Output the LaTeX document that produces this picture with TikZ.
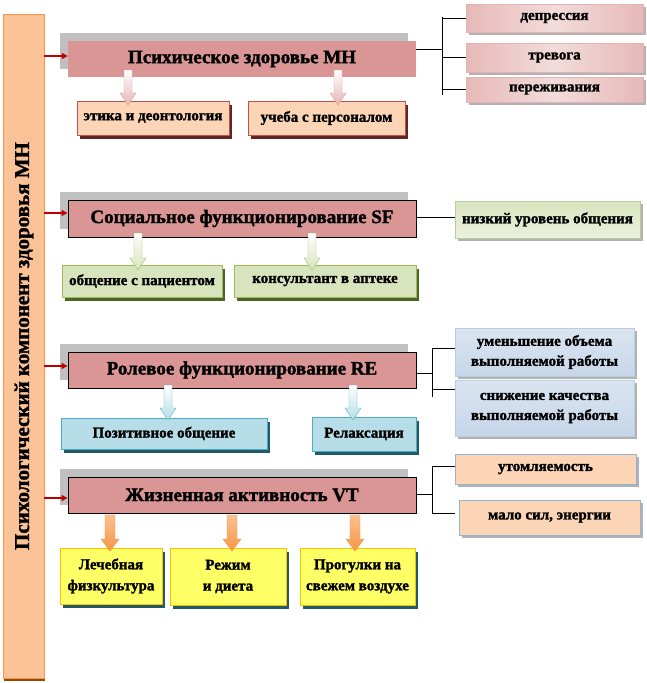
\documentclass[tikz,border=0pt]{standalone}
\usepackage{fontspec}
\setmainfont{Liberation Serif}[BoldFont={Liberation Serif Bold}, BoldFeatures={FakeBold=1.6}]
\usetikzlibrary{calc,shadows,arrows.meta}
\definecolor{mainpink}{HTML}{D99694}
\definecolor{shgray}{HTML}{C0C0C0}
\definecolor{peach}{HTML}{FBD5B5}
\definecolor{redbr}{HTML}{C0504D}
\definecolor{darkred}{HTML}{632523}
\definecolor{pinkA}{HTML}{E6B9B8}
\definecolor{pinkB}{HTML}{F2DCDB}
\definecolor{greenA}{HTML}{D7E4BD}
\definecolor{greenB}{HTML}{EBF1DE}
\definecolor{greenBd}{HTML}{9BBB59}
\definecolor{olive}{HTML}{4F6228}
\definecolor{blueA}{HTML}{B8CCE4}
\definecolor{blueB}{HTML}{DBE5F1}
\definecolor{blueBd}{HTML}{95B3D7}
\definecolor{aqua}{HTML}{B7DEE8}
\definecolor{aquaBd}{HTML}{4BACC6}
\definecolor{teal}{HTML}{215967}
\definecolor{yel}{HTML}{FFFF66}
\definecolor{gold}{HTML}{FFC000}
\definecolor{orA}{HTML}{FAC090}
\definecolor{orB}{HTML}{F79646}
\definecolor{orMid}{HTML}{F59D56}
\definecolor{orLight}{HTML}{FAC397}
\definecolor{orDark}{HTML}{984807}
\definecolor{arrred}{HTML}{C00000}
\newcommand\blkarr[5]{% x, top, tip, half shaft, style
  \path[#5] (#1-#4,#2) -- (#1+#4,#2) -- (#1+#4,#3-12) -- (#1+#4+4,#3-12) -- (#1,#3)
    -- (#1-#4-4,#3-12) -- (#1-#4,#3-12) -- cycle;}
\begin{document}
\begin{tikzpicture}[x=1pt,y=-1pt,
  mainbox/.style={rectangle, fill=mainpink, inner sep=0pt, minimum width=348pt,
    font=\fontsize{19}{22}\selectfont\bfseries,
    general shadow={fill=shgray, shadow xshift=-8pt, shadow yshift=8pt}},
  subtext/.style={rectangle, inner sep=0pt, align=center, font=\fontsize{15}{20}\selectfont\bfseries},
  sub1/.style={subtext, fill=peach, draw=redbr, line width=0.8pt,
    general shadow={fill=darkred, shadow xshift=3pt, shadow yshift=-4pt}},
  sub2/.style={subtext, fill=greenA, draw=greenBd, line width=0.8pt,
    general shadow={fill=olive, shadow xshift=3pt, shadow yshift=-4pt}},
  sub3/.style={subtext, fill=aqua, draw=aquaBd, line width=0.8pt,
    general shadow={fill=teal, shadow xshift=3pt, shadow yshift=-4pt}},
  sub4/.style={subtext, fill=yel, draw=gold, line width=0.8pt,
    font=\fontsize{15}{21}\selectfont\bfseries,
    general shadow={fill=teal, shadow xshift=3pt, shadow yshift=-4pt}},
  rgt/.style={subtext, general shadow={fill=black!30, shadow xshift=3pt, shadow yshift=-3pt}},
  rgt1/.style={rgt, left color=pinkA, right color=pinkA, middle color=pinkB, draw=pinkA!80!mainpink, line width=0.5pt},
  rgt2/.style={rgt, top color=greenA, bottom color=greenB, draw=greenA!80!olive, line width=0.5pt},
  rgt3/.style={rgt, top color=blueB, bottom color=blueA!80!white, draw=blueA, line width=0.5pt},
  rgt4/.style={rgt, fill=peach, draw=blueBd, line width=0.8pt},
  conn/.style={draw=black, line width=0.9pt},
  redarr/.style={draw=arrred, line width=1.3pt, -{Triangle[length=6pt,width=6pt]}},
  arr1/.style={top color=white, bottom color=pinkA!90!mainpink, draw=mainpink, line width=0.4pt},
  arr2/.style={top color=white, bottom color=greenA, draw=greenBd, line width=0.4pt},
  arr3/.style={top color=white, bottom color=aqua, draw=aquaBd, line width=0.4pt},
  arr4/.style={top color=orA, bottom color=orB, draw=orB, line width=0.4pt}
]
\useasboundingbox (0,0) rectangle (647,683);
\fill[white] (0,0) rectangle (647,683);

% vertical bar
\fill[orDark] (4,16) rectangle (45,681);
\shade[top color=orLight, middle color=orMid, bottom color=orLight, draw=orB, line width=0.6pt]
  (3,14) rectangle (44,678);
\node[rotate=90, inner sep=0pt, font=\fontsize{21}{24}\selectfont\bfseries] (bar) at (24,346)
  {Психологический компонент здоровья МН};

% main boxes
\node[mainbox, minimum height=36pt] (m1) at (242,59) {Психическое здоровье МН};
\node[mainbox, draw=black, line width=0.9pt, minimum height=37pt] (m2) at (242,218.5) {Социальное функционирование SF};
\node[mainbox, draw=black, line width=0.9pt, minimum height=36pt] (m3) at (242,370) {Ролевое функционирование RE};
\node[mainbox, draw=black, line width=0.9pt, minimum height=36pt] (m4) at (242,495) {Жизненная активность VT};

% red arrows
\coordinate (ra1) at (44,56);
\coordinate (ra2) at (44,213);
\coordinate (ra3) at (44,366);
\coordinate (ra4) at (44,498);
\draw[redarr] (ra1) -- (ra1 -| m1.west);
\draw[redarr] (ra2) -- (ra2 -| m2.west);
\draw[redarr] (ra3) -- (ra3 -| m3.west);
\draw[redarr] (ra4) -- (ra4 -| m4.west);

% row 1 sub boxes
\node[sub1, minimum width=152pt, minimum height=34pt] (s11) at (153,118) {этика и деонтология};
\node[sub1, minimum width=157pt, minimum height=34pt] (s12) at (326.5,118) {учеба с персоналом};
\blkarr{128}{70}{105}{4}{arr1}
\blkarr{338}{70}{105}{4}{arr1}

% row 1 right
\node[rgt1, minimum width=177pt, minimum height=28pt] (r11) at (554.5,18) {депрессия};
\node[rgt1, minimum width=177pt, minimum height=29pt] (r12) at (554.5,57.5) {тревога};
\node[rgt1, minimum width=177pt, minimum height=25pt] (r13) at (554.5,89.5) {переживания};
\coordinate (j1) at (442,49);
\draw[conn] (j1 -| m1.east) -- (j1);
\draw[conn] (442,17) -- (442,95);
\draw[conn] (j1 |- r11.west) -- (r11.west);
\draw[conn] (j1 |- r12.west) -- (r12.west);
\draw[conn] (j1 |- r13.west) -- (r13.west);

% row 2
\node[sub2, minimum width=160pt, minimum height=32pt] (s21) at (142,281) {общение с пациентом};
\node[sub2, minimum width=182pt, minimum height=32pt] (s22) at (325,281) {консультант в аптеке};
\blkarr{138}{233}{270}{4}{arr2}
\blkarr{312}{233}{270}{4}{arr2}
\node[rgt2, minimum width=185pt, minimum height=37pt] (r21) at (547.5,219.5) {низкий уровень общения};
\coordinate (j2) at (430,217);
\draw[conn] (j2 -| m2.east) -- (j2 -| r21.west);

% row 3
\node[sub3, minimum width=206pt, minimum height=31pt] (s31) at (164,433.5) {Позитивное общение};
\node[sub3, minimum width=104pt, minimum height=34pt] (s32) at (364,434) {Релаксация};
\blkarr{168}{385}{420}{4}{arr3}
\blkarr{353}{385}{420}{4}{arr3}
\node[rgt3, minimum width=179pt, minimum height=48pt] (r31) at (544.5,352) {уменьшение объема\\выполняемой работы};
\node[rgt3, minimum width=179pt, minimum height=56pt] (r32) at (544.5,408) {снижение качества\\выполняемой работы};
\coordinate (j3) at (432,373);
\coordinate (b31) at (432,348);
\coordinate (b32) at (432,389);
\draw[conn] (j3 -| m3.east) -- (j3);
\draw[conn] (432,348) -- (432,397);
\draw[conn] (b31) -- (b31 -| r31.west);
\draw[conn] (b32) -- (b32 -| r32.west);

% row 4
\node[sub4, minimum width=102pt, minimum height=56pt] (s41) at (111,576) {Лечебная\\физкультура};
\node[sub4, minimum width=116pt, minimum height=57pt] (s42) at (228,576.5) {Режим\\и диета};
\node[sub4, minimum width=115pt, minimum height=57pt] (s43) at (357.5,576.5) {Прогулки на\\свежем воздухе};
\blkarr{110}{515}{551}{5}{arr4}
\blkarr{232}{515}{551}{5}{arr4}
\blkarr{355}{515}{551}{5}{arr4}
\node[rgt4, minimum width=181pt, minimum height=30pt] (r41) at (545.5,469) {утомляемость};
\node[rgt4, minimum width=181pt, minimum height=35pt] (r42) at (549.5,517.5) {мало сил, энергии};
\coordinate (j4) at (432,494);
\coordinate (b41) at (432,466);
\coordinate (b42) at (432,513);
\draw[conn] (j4 -| m4.east) -- (j4);
\draw[conn] (b41) -- (b42);
\draw[conn] (b41) -- (b41 -| r41.west);
\draw[conn] (b42) -- (b42 -| r41.west);
\end{tikzpicture}
\end{document}
